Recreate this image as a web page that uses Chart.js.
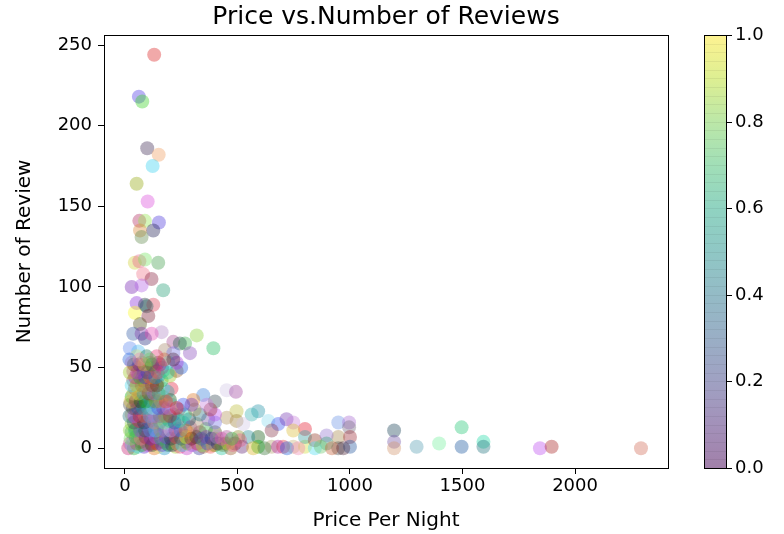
<!DOCTYPE html>
<html>
<head>
<meta charset="utf-8">
<title>Price vs.Number of Reviews</title>
<script src="https://cdn.jsdelivr.net/npm/chart.js@4.4.1/dist/chart.umd.min.js"></script>
<style>
    html, body { margin: 0; padding: 0; background: #fff; }
    canvas { display: block; }
</style>
</head>
<body>
<canvas id="reviewChart" width="784" height="534"></canvas>
<script>
// listings: price per night / number of reviews
const price = [
    130, 62, 77, 99, 150, 123, 52, 101, 64, 89, 151, 67, 126, 74, 44, 64, 89, 148, 81, 118,
    30, 74, 170, 52, 89, 126, 96, 44, 104, 67, 37, 74, 89, 163, 119, 215, 267, 319, 393, 289,
    244, 22, 59, 178, 215, 452, 493, 348, 304, 400, 207,
    1196, 1196, 1196, 1296, 1396, 1496, 1496, 1593, 1593, 1844, 1896, 2293,
    948, 996, 996, 948, 1000, 948, 1000,
    592, 563, 637, 681, 718, 748, 800, 748, 652, 592, 592, 548, 504, 652, 703, 748, 800, 800, 844, 896,
    896, 844, 496, 496, 452, 444, 489,
    15, 40, 85, 130, 175, 225, 275, 330, 380, 430, 470, 520, 570, 620, 680, 720, 770, 870, 920, 970,
    59, 104, 148, 193, 244, 296, 348, 400,
    22, 70, 118, 170, 220, 270, 320, 375, 425,
    37, 96, 148, 193, 244, 296, 348, 400, 511,
    55, 105, 160, 210, 265, 310,
    30, 81, 133, 178, 222, 281, 333, 400,
    48, 95, 140, 190, 240, 290, 360,
    30, 67, 111, 156, 200, 259, 319, 400, 526,
    50, 100, 145, 190, 235, 285, 370,
    30, 74, 126, 170, 215, 267, 333, 400,
    50, 95, 140, 185, 240, 310, 380,
    22, 67, 111, 156, 207, 259, 296, 363,
    50, 100, 145, 200,
    30, 81, 126, 170,
    60, 105, 150, 190,
    44, 89, 126, 170,
    55, 100, 145,
    37, 81, 126, 163,
    60, 105, 150, 200,
    37, 81, 133, 170, 230,
    55, 90, 125, 165, 250,
    30, 74, 111, 148, 193, 230,
    52, 96, 141,
    30, 52, 75, 97, 120, 142, 165, 187, 210, 232, 255, 278, 300, 322, 345, 367, 390, 412, 435, 458, 480,
    25, 48, 70, 92, 115, 137, 160, 182, 205, 227, 250, 272, 295, 317, 340, 362, 385, 408, 430, 452, 475,
    22, 45, 68, 90, 112, 135, 158, 180, 203, 225, 248, 270,
    40, 62, 85, 108, 130, 152, 175, 198, 220, 242,
    20, 42, 65, 88, 110, 132, 155, 178, 200,
    35, 58, 80, 103, 125, 148, 170, 193, 230,
    25, 48, 70, 92, 115, 137, 160, 182,
    38, 60, 83, 105, 128, 150,
    30, 52, 75, 97, 120, 142,
    45, 67, 90, 112, 135,
    22, 55, 100, 145, 190,
    40, 63, 86, 120, 155,
    20, 65, 110, 175, 215
];
const reviews = [
    244, 218, 215, 186, 182, 175, 164, 153, 141, 141, 140, 135, 135, 131, 115, 116, 117, 115, 108, 105,
    100, 101, 98, 90, 89, 89, 88, 84, 82, 77, 71, 71, 68, 72, 71, 66, 65, 70, 62, 59,
    65, 62, 60, 61, 59, 36, 35, 33, 30, 29, 37,
    11, 4, 0, 1, 3, 13, 1, 4, 1, 0, 1, 0,
    16, 16, 13, 7, 7, 0, 1,
    23, 21, 17, 15, 18, 16, 12, 11, 11, 7, 1, 7, 7, 1, 1, 1, 1, 7, 5, 8,
    3, 0, 23, 17, 19, 3, 3,
    0, 0, 1, 0, 0, 1, 0, 0, 1, 0, 0, 1, 0, 0, 1, 0, 0, 1, 0, 0,
    1, 2, 1, 2, 1, 2, 1, 2,
    3, 4, 3, 4, 3, 4, 3, 4, 3,
    5, 6, 5, 6, 5, 6, 5, 6, 5,
    8, 8, 8, 8, 8, 8,
    10, 10, 10, 10, 10, 10, 10, 10,
    12, 13, 12, 13, 12, 13, 12,
    15, 16, 15, 16, 15, 16, 15, 16, 15,
    18, 18, 18, 18, 18, 18, 18,
    21, 21, 21, 21, 21, 21, 21, 21,
    24, 24, 24, 24, 24, 24, 24,
    27, 27, 27, 27, 27, 27, 27, 27,
    30, 30, 30, 30,
    32, 32, 32, 32,
    35, 35, 35, 35,
    37, 37, 37, 37,
    40, 40, 40,
    42, 42, 42, 42,
    45, 45, 45, 45,
    48, 48, 48, 48, 48,
    50, 50, 50, 50, 50,
    53, 53, 53, 53, 53, 53,
    57, 57, 57,
    2, 3, 2, 3, 2, 3, 2, 3, 2, 3, 2, 3, 2, 3, 2, 3, 2, 3, 2, 3, 2,
    6, 7, 6, 7, 6, 7, 6, 7, 6, 7, 6, 7, 6, 7, 6, 7, 6, 7, 6, 7, 6,
    11, 11, 11, 11, 11, 11, 11, 11, 11, 11, 11, 11,
    16, 17, 16, 17, 16, 17, 16, 17, 16, 17,
    20, 20, 20, 20, 20, 20, 20, 20, 20,
    25, 25, 25, 25, 25, 25, 25, 25, 25,
    29, 29, 29, 29, 29, 29, 29, 29,
    34, 34, 34, 34, 34, 34,
    39, 39, 39, 39, 39, 39,
    44, 44, 44, 44, 44,
    47, 47, 47, 47, 47,
    52, 52, 52, 52, 52,
    55, 55, 55, 55, 55
];

const xTicks = [0, 500, 1000, 1500, 2000];
const yTicks = [0, 50, 100, 150, 200, 250];
const cbarTicks = [0, 0.2, 0.4, 0.6, 0.8, 1.0];
const xLimits = [-93, 2413];
const yLimits = [-12.2, 256.2];

// random-looking dot colours (matplotlib c=random rgb), used in order
const dotColors = [
    [220,40,40],[80,60,230],[60,210,40],[70,50,90],[240,160,100],[60,210,240],[150,170,20],[220,80,220],
    [180,50,100],[150,230,80],[80,60,220],[220,140,60],[40,40,90],[100,140,80],[210,210,60],[230,100,140],
    [120,230,100],[70,160,80],[240,120,140],[140,40,70],[120,40,180],[180,100,230],[40,160,120],[140,50,220],
    [40,60,70],[220,70,90],[40,100,100],[250,250,40],[130,40,60],[80,80,30],[60,100,170],[130,60,170],
    [40,50,130],[180,140,200],[230,80,180],[170,80,150],[60,180,80],[140,210,60],[40,190,100],[140,80,190],
    [40,90,80],[100,140,240],[80,190,240],[170,140,110],[120,120,230],[210,200,230],[160,70,160],[60,130,220],
    [220,120,40],[60,80,90],[230,40,70],[30,70,90],[120,90,170],[210,150,110],[90,160,180],[120,240,160],
    [40,200,120],[30,90,160],[40,220,170],[40,120,130],[190,80,240],[170,40,40],[210,110,90],[110,150,230],
    [170,110,210],[120,110,130],[170,140,80],[160,50,60],[80,80,80],[40,90,160],[40,150,170],[60,180,180],
    [140,220,240],[60,90,240],[120,60,180],[200,130,220],[230,30,50],[220,190,60],[140,60,80],[20,90,20],
    [20,180,20],[40,140,150],[140,140,40],[180,160,110],[230,60,60],[200,180,120],[210,220,60],[60,160,160],
    [150,60,40],[150,120,210],[60,160,120],[80,220,240],[190,190,60],[160,130,60],[180,150,90],[140,70,70],
    [110,60,30],
    [200,40,120],[40,180,60],[90,40,200],[230,120,30],[30,150,200],[160,200,40],[200,60,200],[60,60,160],
    [240,80,80],[40,200,160],[150,90,40],[100,40,120],[220,180,40],[60,120,60],[180,40,160],[40,100,220],
    [240,140,180],[110,200,110],[200,100,60],[80,40,60],[60,200,220],[170,60,220],[220,220,120],[30,120,90],
    [230,60,120],[120,170,230],[160,110,50],[70,160,40],[210,90,150],[50,70,50]
];
const viridis = ['#440154', '#482475', '#414487', '#355f8d', '#2a788e', '#21918c',
                 '#22a884', '#44bf70', '#7ad151', '#bddf26', '#fde725'];

const FONT = "'DejaVu Sans', 'Noto Sans', sans-serif";
const DOT_ALPHA = 0.4;

const points = price.map((p, i) => ({ x: p, y: reviews[i] }));
const colors = points.map((_, i) => {
    const c = dotColors[i % dotColors.length];
    return `rgba(${c[0]}, ${c[1]}, ${c[2]}, ${DOT_ALPHA})`;
});

// frame round the plot + the colorbar on the right
const frameAndColorbar = {
    id: 'frameAndColorbar',
    afterDraw(chart) {
        const { ctx, chartArea: a } = chart;
        ctx.save();
        ctx.strokeStyle = '#000';
        ctx.lineWidth = 1;
        ctx.strokeRect(Math.round(a.left) + 0.5, Math.round(a.top) + 0.5,
            Math.round(a.right - a.left), Math.round(a.bottom - a.top));

        const cb = chart.scales.cb;
        const top = Math.round(cb.getPixelForValue(1));
        const bot = Math.round(cb.getPixelForValue(0));
        const x0 = Math.round(a.right) + 36;
        const w = 22;

        const grad = ctx.createLinearGradient(0, bot, 0, top);
        viridis.forEach((c, i) => grad.addColorStop(i / (viridis.length - 1), c));
        ctx.globalAlpha = 0.5;
        ctx.fillStyle = grad;
        ctx.fillRect(x0, top, w, bot - top);
        // faint band edges, as the alpha colorbar shows them
        ctx.globalAlpha = 0.06;
        ctx.fillStyle = '#000';
        const bands = 50;
        for (let i = 1; i < bands; i++) {
            const y = Math.round(top + (bot - top) * i / bands);
            ctx.fillRect(x0, y, w, 1);
        }
        ctx.globalAlpha = 1;
        ctx.strokeRect(x0 + 0.5, top + 0.5, w, bot - top);

        ctx.font = `18px ${FONT}`;
        ctx.fillStyle = '#000';
        ctx.textAlign = 'left';
        ctx.textBaseline = 'middle';
        cbarTicks.forEach(v => {
            const y = Math.round(cb.getPixelForValue(v)) + 0.5;
            ctx.beginPath();
            ctx.moveTo(x0 + w, y);
            ctx.lineTo(x0 + w + 6, y);
            ctx.stroke();
            ctx.fillText(v.toFixed(1), x0 + w + 9, y);
        });
        ctx.restore();
    }
};

const tickFont = { family: FONT, size: 18 };
const labelFont = { family: FONT, size: 20 };

const ctx = document.getElementById('reviewChart').getContext('2d');

new Chart(ctx, {
    type: 'scatter',
    data: {
        datasets: [{
            data: points,
            backgroundColor: colors,
            borderColor: colors,
            borderWidth: 0,
            pointRadius: 7,
            pointHoverRadius: 7
        }]
    },
    options: {
        responsive: false,
        animation: false,
        events: [],
        layout: { padding: { left: 0, right: 116, top: 0, bottom: 0 } },
        plugins: {
            legend: { display: false },
            tooltip: { enabled: false },
            title: {
                display: true,
                text: 'Price vs.Number of Reviews',
                fullSize: false,
                color: '#000',
                font: { family: FONT, size: 25, weight: 'normal' },
                padding: { top: 2, bottom: 3 }
            }
        },
        scales: {
            x: {
                type: 'linear',
                min: xLimits[0],
                max: xLimits[1],
                afterBuildTicks: s => { s.ticks = xTicks.map(v => ({ value: v })); },
                afterFit: s => { s.height = 66; },
                grid: { drawOnChartArea: false, tickLength: 6, color: '#000' },
                border: { display: false },
                ticks: { color: '#000', font: tickFont, padding: 2, maxRotation: 0, callback: v => String(v) },
                title: { display: true, text: 'Price Per Night', color: '#000', font: labelFont, padding: { top: 0, bottom: 1 } }
            },
            y: {
                type: 'linear',
                min: yLimits[0],
                max: yLimits[1],
                afterBuildTicks: s => { s.ticks = yTicks.map(v => ({ value: v })); },
                afterFit: s => { s.width = 104; },
                grid: { drawOnChartArea: false, tickLength: 6, color: '#000' },
                border: { display: false },
                ticks: { color: '#000', font: tickFont, padding: 6, callback: v => String(v) },
                title: { display: true, text: 'Number of Review', color: '#000', font: labelFont, padding: { top: 13, bottom: 0 } }
            },
            cb: {
                type: 'linear',
                axis: 'y',
                position: 'right',
                display: false,
                min: 0,
                max: 1
            }
        }
    },
    plugins: [frameAndColorbar]
});
</script>
</body>
</html>
